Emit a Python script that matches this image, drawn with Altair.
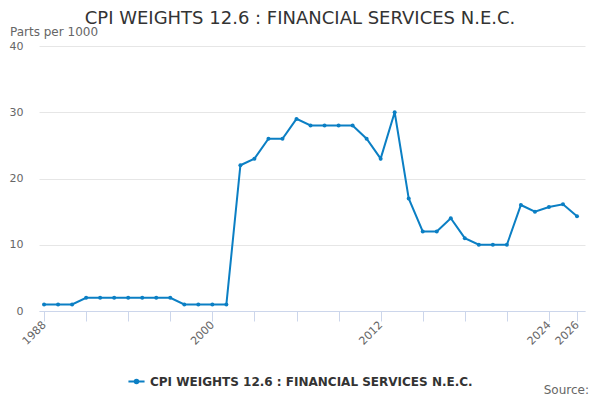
import altair as alt
import pandas as pd

years = list(range(1988, 2027))
values = [1, 1, 1, 2, 2, 2, 2, 2, 2, 2, 1, 1, 1, 1,
          22, 23, 26, 26, 29, 28, 28, 28, 28, 26, 23, 30, 17,
          12, 12, 14, 11, 10, 10, 10, 16, 15, 15.7, 16.1, 14.3]
series_name = "CPI WEIGHTS 12.6 : FINANCIAL SERVICES N.E.C."
tick_years = [1988, 1991, 1994, 1997, 2000, 2003, 2006, 2009, 2012, 2015, 2018, 2021, 2024, 2026]
label_years = [1988, 2000, 2012, 2024, 2026]
y_ticks = [0, 10, 20, 30, 40]

df = pd.DataFrame({"year": years, "value": values, "series": series_name})
one = pd.DataFrame({"k": [0]})

FONT = "DejaVu Sans"
COLOR = "#0b7fc4"

x = alt.X("year:Q",
          scale=alt.Scale(domain=[1987.64, 2026.57], nice=False, zero=False),
          axis=alt.Axis(values=tick_years, title=None, grid=False,
                        labelExpr="indexof([" + ",".join(str(v) for v in label_years) + "], datum.value) >= 0 ? datum.value : ''",
                        labelAngle=-45, labelAlign="right", labelBaseline="middle",
                        labelFontSize=11, labelColor="#666666", labelFont=FONT,
                        labelPadding=2, labelOverlap=False, labelFlush=False,
                        domainColor="#ccd6eb", tickColor="#ccd6eb", tickSize=10,
                        tickWidth=1, domainWidth=1))
y = alt.Y("value:Q",
          scale=alt.Scale(domain=[0, 40], nice=False),
          axis=alt.Axis(values=y_ticks, title=None, domain=False, ticks=False,
                        gridColor="#e6e6e6", labelFontSize=11, labelColor="#666666",
                        labelFont=FONT, labelPadding=16, labelBaseline="middle"))

color = alt.Color("series:N",
                  scale=alt.Scale(range=[COLOR]),
                  legend=alt.Legend(title=None, orient="none", legendX=88, legendY=326,
                                    symbolType="M -1 0 L 1 0 M -0.22 0 A 0.22 0.22 0 1 0 0.22 0 A 0.22 0.22 0 1 0 -0.22 0 Z",
                                    symbolSize=260, symbolStrokeWidth=2, symbolFillColor=COLOR,
                                    symbolStrokeColor=COLOR,
                                    labelFont=FONT, labelFontSize=12, labelFontWeight="bold",
                                    labelColor="#333333", labelLimit=500))

line = alt.Chart(df).mark_line(strokeWidth=2, point=alt.OverlayMarkDef(size=16, filled=True, color=COLOR)).encode(
    x=x, y=y, color=color)

title_t = alt.Chart(one).mark_text(text=series_name, font=FONT, fontSize=18, color="#333333",
                                   align="center", baseline="middle").encode(
    x=alt.value(261), y=alt.value(-27))
units_t = alt.Chart(one).mark_text(text="Parts per 1000", font=FONT, fontSize=12, color="#666666",
                                   align="left", baseline="middle").encode(
    x=alt.value(-29), y=alt.value(-14))
source_t = alt.Chart(one).mark_text(text="Source:", font=FONT, fontSize=12, color="#666666",
                                    align="right", baseline="middle").encode(
    x=alt.value(550), y=alt.value(344))

chart = alt.layer(line, title_t, units_t, source_t).properties(
    width=546, height=265,
    view=alt.ViewBackground(stroke="transparent", strokeWidth=0),
    autosize=alt.AutoSizeParams(type="none"),
    padding={"left": 31, "top": 38, "right": 7, "bottom": 89},
).configure_view(stroke="transparent", strokeWidth=0).configure(font=FONT)

chart.save("out.html", embed_options={"renderer": "svg", "actions": False})
